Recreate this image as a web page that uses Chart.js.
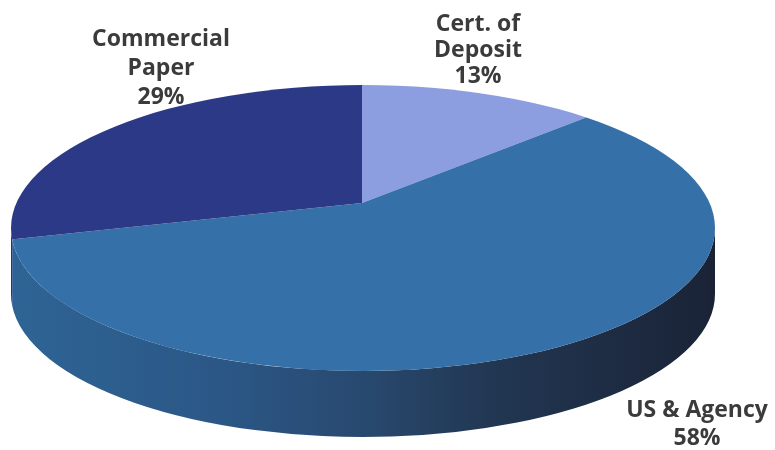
<!DOCTYPE html>
<html>
<head>
<meta charset="utf-8">
<script src="https://cdn.jsdelivr.net/npm/chart.js@4.4.0/dist/chart.umd.min.js"></script>
<style>
  html, body { margin: 0; padding: 0; background: #ffffff; }
  #wrap { width: 775px; height: 450px; position: relative; }
</style>
</head>
<body>
<div id="wrap"><canvas id="pie"></canvas></div>
<script>
// Portfolio allocation by instrument type
const categories = ['Cert. of Deposit', 'US & Agency', 'Commercial Paper'];
const shares = [13, 58, 29];
const labelLines = [['Cert. of', 'Deposit'], ['US & Agency'], ['Commercial', 'Paper']];

// Face colours and the darker side-wall shading stops (left to right)
const topColors = ['#8c9de0', '#3571a8', '#2c3987'];
const sideStops = [0, 0.3, 0.5, 0.68, 1];
const sideColors = [
  ['#6f7fc0', '#6676b6', '#5a68a8', '#4a5588', '#3b4573'],
  ['#2e6495', '#2b5786', '#28496f', '#223753', '#1a2336'],
  ['#27337a', '#242f72', '#202a66', '#1b2356', '#161d45']
];

// Disc top (ellipse), the point where the wedges meet, and rim depth
const CX = 363, CY = 228, RX = 352, RY = 143, DEPTH = 66;
const APX = 362, APY = 203;
const REACH = 1.4; // wedges are drawn oversize and clipped to the disc top

// Label anchors: centre x, first baseline, line height
const labelPos = [
  { x: 478, y: 31, lh: 26 },
  { x: 697, y: 417, lh: 28 },
  { x: 161, y: 46, lh: 29 }
];

// parametric angle on the rim where a wedge edge (screen direction) meets it
function rimAngle(theta) {
  const dx = Math.cos(theta) * RX, dy = Math.sin(theta) * RY;
  const u0 = (APX - CX) / RX, v0 = (APY - CY) / RY;
  const du = dx / RX, dv = dy / RY;
  const a = du * du + dv * dv, b = 2 * (u0 * du + v0 * dv), c = u0 * u0 + v0 * v0 - 1;
  const t = (-b + Math.sqrt(b * b - 4 * a * c)) / (2 * a);
  return Math.atan2(v0 + t * dv, u0 + t * du);
}

const tiltPlugin = {
  id: 'tilt',
  beforeDatasetsDraw(chart) {
    const ctx = chart.ctx;
    const meta = chart.getDatasetMeta(0);
    const first = meta.data[0];
    const cx0 = first.x, cy0 = first.y, r0 = first.outerRadius;

    // side wall: only the front half of the rim (0..PI) is visible
    meta.data.forEach((arc, i) => {
      const s = rimAngle(arc.startAngle);
      let e = rimAngle(arc.endAngle);
      while (e <= s) e += 2 * Math.PI;
      const ranges = [];
      [[-2 * Math.PI, -Math.PI], [0, Math.PI], [2 * Math.PI, 3 * Math.PI]].forEach(([lo, hi]) => {
        const a = Math.max(s, lo), b = Math.min(e, hi);
        if (b > a) ranges.push([a, b]);
      });
      ranges.forEach(([a, b]) => {
        const g = ctx.createLinearGradient(CX - RX, 0, CX + RX, 0);
        sideStops.forEach((p, k) => g.addColorStop(p, sideColors[i][k]));
        ctx.save();
        ctx.beginPath();
        ctx.ellipse(CX, CY, RX, RY, 0, a, b, false);
        ctx.ellipse(CX, CY + DEPTH, RX, RY, 0, b, a, true);
        ctx.closePath();
        ctx.fillStyle = g;
        ctx.fill();
        ctx.restore();
      });
    });

    // lay the pie face onto the disc top
    ctx.save();
    ctx.beginPath();
    ctx.ellipse(CX, CY, RX, RY, 0, 0, 2 * Math.PI);
    ctx.clip();
    ctx.translate(APX, APY);
    ctx.scale(REACH * RX / r0, REACH * RY / r0);
    ctx.translate(-cx0, -cy0);
  },
  afterDatasetsDraw(chart) {
    chart.ctx.restore();
  },
  afterDraw(chart) {
    const ctx = chart.ctx;
    ctx.save();
    ctx.fillStyle = '#3b3b3b';
    ctx.font = 'bold 23px "Open Sans", sans-serif';
    ctx.textAlign = 'center';
    ctx.textBaseline = 'alphabetic';
    categories.forEach((c, i) => {
      const lines = labelLines[i].concat([shares[i] + '%']);
      const p = labelPos[i];
      lines.forEach((t, k) => ctx.fillText(t, p.x, p.y + k * p.lh));
    });
    ctx.restore();
  }
};

new Chart(document.getElementById('pie'), {
  type: 'pie',
  data: {
    labels: categories,
    datasets: [{
      data: shares,
      backgroundColor: topColors,
      borderWidth: 0
    }]
  },
  options: {
    responsive: true,
    maintainAspectRatio: false,
    animation: false,
    layout: { padding: 0 },
    plugins: { legend: { display: false }, tooltip: { enabled: false } }
  },
  plugins: [tiltPlugin]
});
</script>
</body>
</html>
